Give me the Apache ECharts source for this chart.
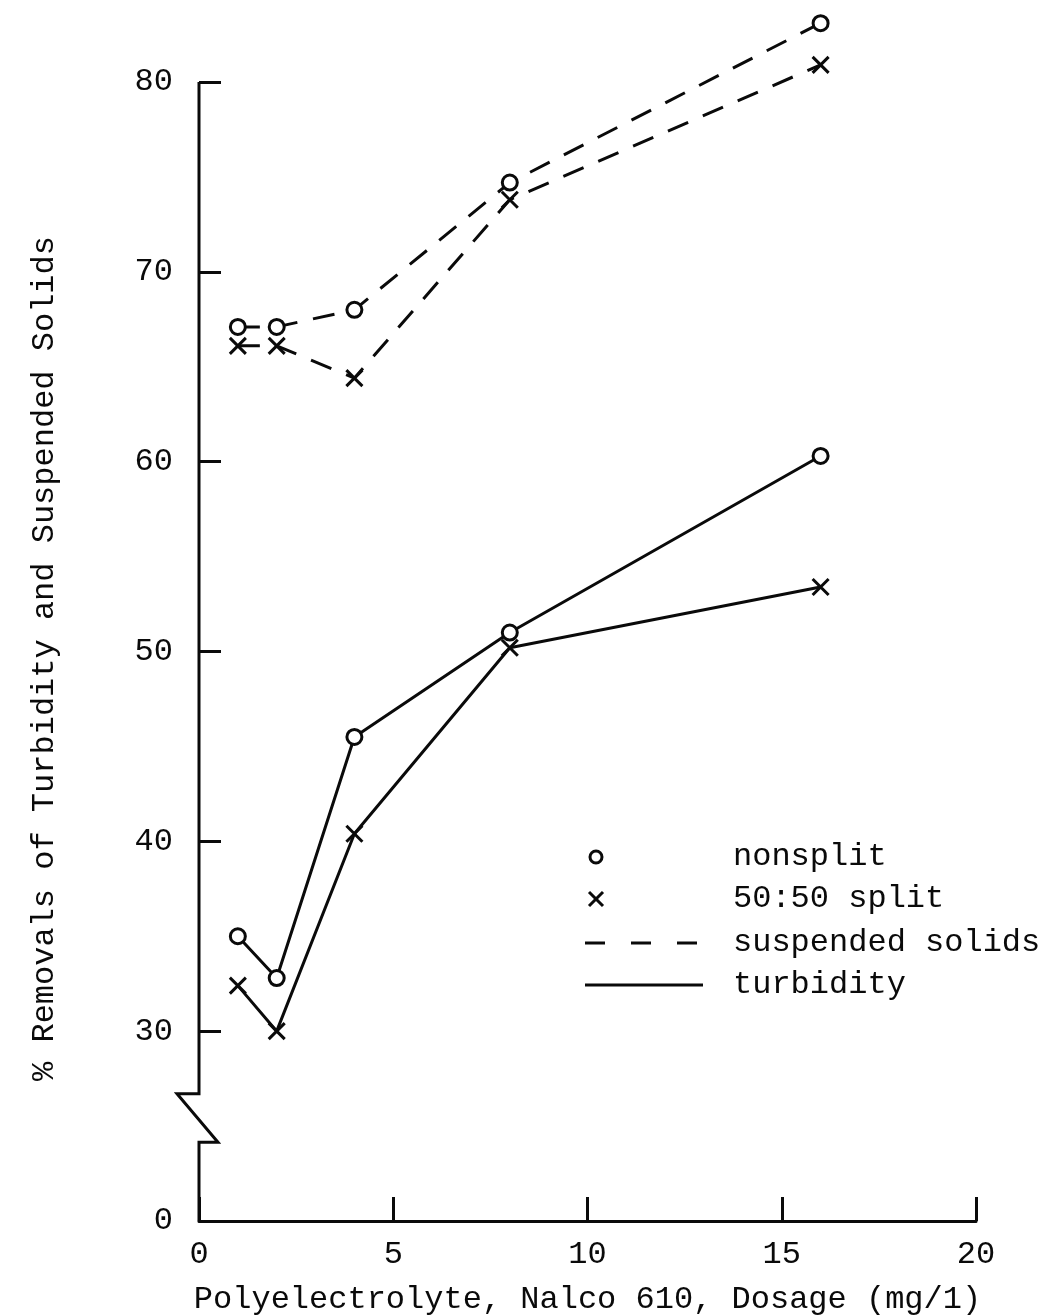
<!DOCTYPE html>
<html lang="en">
<head>
<meta charset="UTF-8">
<title>Removals vs polyelectrolyte dosage</title>
<style>html,body{margin:0;padding:0;background:#fff;}</style>
</head>
<body>
<div id="main" style="width:1053px;height:1315px;"></div>
<script src="https://cdn.jsdelivr.net/npm/echarts@6/dist/echarts.min.js"></script>
<script>
// dosage (mg/l)
var dosage = [1, 2, 4, 8, 16];
// % removals
var ssNonsplit = [67.1, 67.1, 68.0, 74.7, 83.1];
var ssSplit = [66.1, 66.1, 64.4, 73.8, 80.9];
var turbNonsplit = [35.0, 32.8, 45.5, 51.0, 60.3];
var turbSplit = [32.4, 30.0, 40.4, 50.2, 53.4];
// the axis is broken below 30: the bottom tick (20 on the scale) is labelled 0
var yTicks = [20, 30, 40, 50, 60, 70, 80];
var yTickLabels = ['0', '30', '40', '50', '60', '70', '80'];
var xTicks = [0, 5, 10, 15, 20];

var FONT = 'Liberation Mono';
var INK = '#0a0a0a';
var crossPath = 'path://M0,0L10,10M10,0L0,10';

function pairs(ys) {
    return dosage.map(function (x, i) { return [x, ys[i]]; });
}

var main = echarts.init(document.getElementById('main'));

function lineSeries(name, ys, dashed, cross) {
    return {
        name: name,
        type: 'line',
        data: pairs(ys),
        clip: false,
        symbol: cross ? crossPath : 'circle',
        symbolSize: cross ? 16 : 15,
        lineStyle: { color: INK, width: 3, type: dashed ? [22, 16] : 'solid' },
        itemStyle: cross
            ? { color: 'none', borderColor: INK, borderWidth: 3 }
            : { color: '#fff', borderColor: INK, borderWidth: 3 },
        z: cross ? 3 : 4
    };
}

var option = {
    backgroundColor: '#fff',
    animation: false,
    grid: { left: 199, right: 77, top: 82, bottom: 94, outerBoundsMode: 'none', containLabel: false },
    xAxis: {
        type: 'value',
        min: 0, max: 20, interval: 5,
        name: 'Polyelectrolyte, Nalco 610, Dosage (mg/1)',
        nameLocation: 'middle',
        nameGap: 63,
        nameTextStyle: { fontFamily: FONT, fontSize: 32, color: INK },
        axisLine: { show: true, lineStyle: { color: INK, width: 3 } },
        axisTick: { inside: true, length: 24, lineStyle: { color: INK, width: 3 } },
        axisLabel: { margin: 18, fontFamily: FONT, fontSize: 32, color: INK },
        splitLine: { show: false }
    },
    yAxis: {
        type: 'value',
        min: 20, max: 80, interval: 10,
        name: '% Removals of Turbidity and Suspended Solids',
        nameLocation: 'middle',
        nameGap: 138,
        nameTextStyle: { fontFamily: FONT, fontSize: 32, color: INK, padding: [0, 14, 0, 0] },
        axisLine: { show: false },
        axisTick: { show: true, inside: true, length: 22, lineStyle: { color: INK, width: 3 } },
        axisLabel: {
            margin: 26, fontFamily: FONT, fontSize: 32, color: INK,
            formatter: function (v) { return yTickLabels[yTicks.indexOf(v)]; }
        },
        splitLine: { show: false }
    },
    series: [
        lineSeries('ss nonsplit', ssNonsplit, true, false),
        lineSeries('ss split', ssSplit, true, true),
        lineSeries('turbidity nonsplit', turbNonsplit, false, false),
        lineSeries('turbidity split', turbSplit, false, true)
    ]
};
main.setOption(option);

// y axis line with the break symbol, placed through the axis scale
function px(v) { return main.convertToPixel({ gridIndex: 0 }, [0, v]); }
var axTop = px(80), brkTop = px(26.7), brkBot = px(24.15), axBot = px(20);
var ax = axTop[0];

var legendX = 585, textX = 733;
var legendRows = [857, 899, 943, 985];

main.setOption({
    graphic: [
        {
            type: 'polyline',
            shape: { points: [[ax, axTop[1]], [ax, brkTop[1]], [ax - 22, brkTop[1]], [ax + 19, brkBot[1]], [ax, brkBot[1]], [ax, axBot[1]]] },
            style: { stroke: INK, lineWidth: 3, fill: null },
            z: 10
        },
        // legend
        { type: 'circle', shape: { cx: legendX + 11, cy: legendRows[0], r: 6 }, style: { fill: '#fff', stroke: INK, lineWidth: 3 }, z: 10 },
        { type: 'polyline', shape: { points: [[legendX + 4, legendRows[1] - 7], [legendX + 18, legendRows[1] + 7]] }, style: { stroke: INK, lineWidth: 3 }, z: 10 },
        { type: 'polyline', shape: { points: [[legendX + 18, legendRows[1] - 7], [legendX + 4, legendRows[1] + 7]] }, style: { stroke: INK, lineWidth: 3 }, z: 10 },
        { type: 'line', shape: { x1: legendX, y1: legendRows[2], x2: legendX + 118, y2: legendRows[2] }, style: { stroke: INK, lineWidth: 3, lineDash: [20, 26] }, z: 10 },
        { type: 'line', shape: { x1: legendX, y1: legendRows[3], x2: legendX + 118, y2: legendRows[3] }, style: { stroke: INK, lineWidth: 3 }, z: 10 },
        { type: 'text', x: textX, y: legendRows[0], style: { text: 'nonsplit', font: '32px ' + FONT, fill: INK, verticalAlign: 'middle' }, z: 10 },
        { type: 'text', x: textX, y: legendRows[1], style: { text: '50:50 split', font: '32px ' + FONT, fill: INK, verticalAlign: 'middle' }, z: 10 },
        { type: 'text', x: textX, y: legendRows[2], style: { text: 'suspended solids', font: '32px ' + FONT, fill: INK, verticalAlign: 'middle' }, z: 10 },
        { type: 'text', x: textX, y: legendRows[3], style: { text: 'turbidity', font: '32px ' + FONT, fill: INK, verticalAlign: 'middle' }, z: 10 }
    ]
});
</script>
</body>
</html>
